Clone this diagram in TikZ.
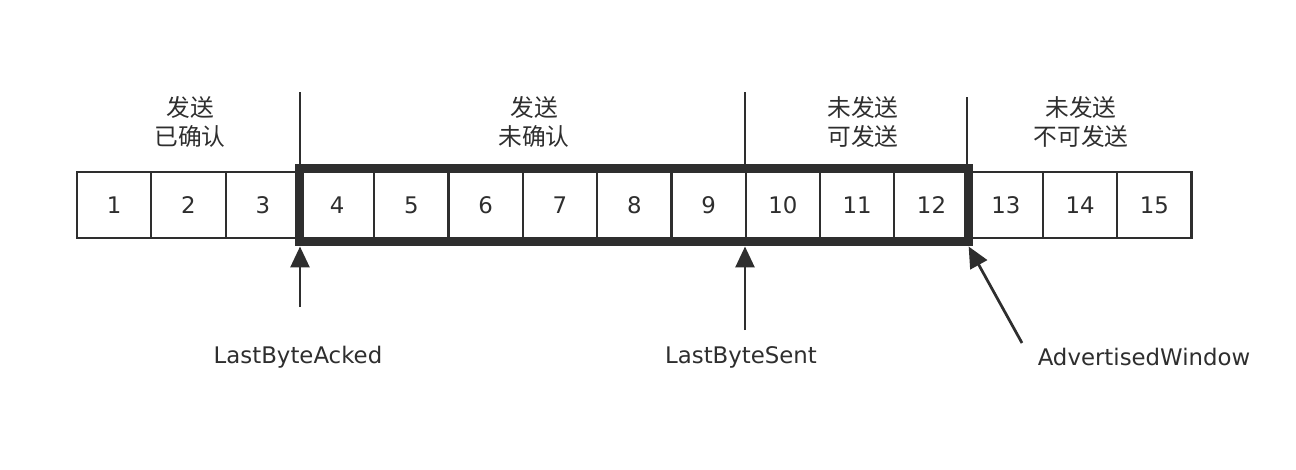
\documentclass[tikz,border=0pt]{standalone}
\usepackage{fontspec}
\setmainfont{DejaVu Sans}
\newfontfamily\cjk{Noto Sans CJK SC}
\usetikzlibrary{arrows.meta,fit}
\definecolor{ink}{HTML}{2E2E2E}

\tikzset{
  cell/.style={draw=ink, line width=0.045cm, minimum width=1.486cm, minimum height=1.32cm,
    inner sep=0pt, outer sep=0pt, text=ink, font=\fontsize{13pt}{15pt}\selectfont},
  window/.style={draw=ink, line width=0.18cm, inner xsep=0pt, inner ysep=0.08cm,
    outer xsep=0pt, outer ysep=0.09cm},
  divider/.style={draw=ink, line width=0.05cm},
  pointer/.style={draw=ink, line width=0.055cm, -{Triangle[width=0.38cm, length=0.42cm]}},
  region/.style={align=center, text=ink, font=\cjk\fontsize{13.5pt}{17pt}\selectfont},
  pname/.style={text=ink, font=\fontsize{13pt}{15pt}\selectfont}
}

\begin{document}
\begin{tikzpicture}[x=0.02cm, y=-0.02cm]
  \useasboundingbox (0,0) rectangle (1296,470);

  % Cells
  \node[cell] (c1) at (114.2,205) {1};
  \node[cell] (c2) at (188.5,205) {2};
  \node[cell] (c3) at (262.8,205) {3};
  \node[cell] (c4) at (337.1,205) {4};
  \node[cell] (c5) at (411.4,205) {5};
  \node[cell] (c6) at (485.7,205) {6};
  \node[cell] (c7) at (560.0,205) {7};
  \node[cell] (c8) at (634.3,205) {8};
  \node[cell] (c9) at (708.6,205) {9};
  \node[cell] (c10) at (782.9,205) {10};
  \node[cell] (c11) at (857.2,205) {11};
  \node[cell] (c12) at (931.5,205) {12};
  \node[cell] (c13) at (1005.8,205) {13};
  \node[cell] (c14) at (1080.1,205) {14};
  \node[cell] (c15) at (1154.4,205) {15};

  % Window
  \node[window, fit=(c4)(c12)] (win) {};

  % Regions
  \node[region] (acked) at (190,122) {发送\\已确认};
  \node[region] (unacked) at (534,122) {发送\\未确认};
  \node[region] (usable) at (863,122) {未发送\\可发送};
  \node[region] (unusable) at (1081,122) {未发送\\不可发送};

  \coordinate (d1) at (300,92);
  \coordinate (d2) at (745,92);
  \coordinate (d3) at (967,97);
  \draw[divider] (d1) -- (d1 |- win.north);
  \draw[divider] (d2) -- (d2 |- win.north);
  \draw[divider] (d3) -- (d3 |- win.north);

  % Pointers
  \node[pname] (lba) at (298,357) {LastByteAcked};
  \node[pname] (lbs) at (741,357) {LastByteSent};
  \node[pname] (adw) at (1144,357) {AdvertisedWindow};

  \coordinate (p1) at (300,307);
  \coordinate (p2) at (745,330);
  \coordinate (p3) at (1022,343);
  \draw[pointer] (p1) -- (p1 |- win.south);
  \draw[pointer] (p2) -- (p2 |- win.south);
  \draw[pointer] (p3) -- (win.south east);
\end{tikzpicture}
\end{document}
